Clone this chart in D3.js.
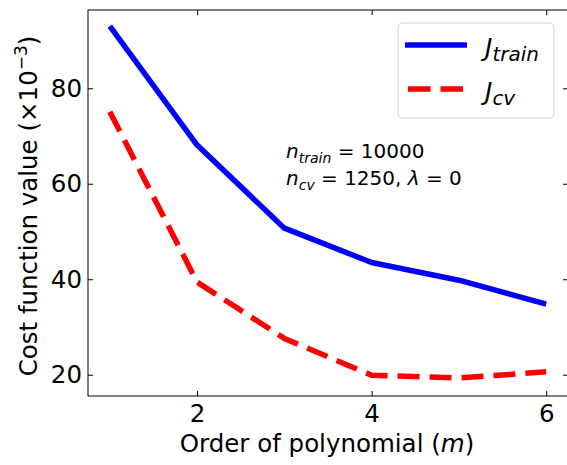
<!DOCTYPE html>
<html>
<head>
<meta charset="utf-8">
<script src="https://cdn.jsdelivr.net/npm/d3@7"></script>
<style>
  html, body { margin: 0; padding: 0; background: #fff; }
  svg { display: block; }
  text { font-family: "DejaVu Sans", sans-serif; fill: #000; }
</style>
</head>
<body>
<svg id="chart" width="567" height="465"></svg>
<script>
// ---- data ----
const orders = [1, 2, 3, 4, 5, 6];
const jTrain = [93.0, 68.1, 50.7, 43.5, 39.8, 34.8];
const jCv = [75.1, 39.4, 27.6, 19.9, 19.3, 20.6];
const xTicks = [2, 4, 6];
const yTicks = [20, 40, 60, 80];

(function () {
const svg = d3.select("#chart");
const pL = 88, pR = 568, pT = 10, pB = 396;

const x = d3.scaleLinear().domain([0.75, 6.25]).range([pL, pR]);
const y = d3.scaleLinear().domain([15.54, 96.4]).range([pB, pT]);

// frame
svg.append("rect").attr("x", pL).attr("y", pT)
  .attr("width", pR - pL).attr("height", pB - pT)
  .attr("fill", "none").attr("stroke", "#000").attr("stroke-width", 1);

// axes with inward ticks
const tickFont = "24.5px";
const gx = svg.append("g").attr("transform", `translate(0,${pB})`)
  .call(d3.axisBottom(x).tickValues(xTicks).tickFormat(d3.format("d")).tickSizeInner(-5).tickSizeOuter(0).tickPadding(9));
const gxt = svg.append("g").attr("transform", `translate(0,${pT})`)
  .call(d3.axisTop(x).tickValues(xTicks).tickFormat("").tickSizeInner(-5).tickSizeOuter(0));
const gy = svg.append("g").attr("transform", `translate(${pL},0)`)
  .call(d3.axisLeft(y).tickValues(yTicks).tickFormat(d3.format("d")).tickSizeInner(-5).tickSizeOuter(0).tickPadding(6));
const gyr = svg.append("g").attr("transform", `translate(${pR},0)`)
  .call(d3.axisRight(y).tickValues(yTicks).tickFormat("").tickSizeInner(-5).tickSizeOuter(0));
[gx, gxt, gy, gyr].forEach(g => {
  g.select(".domain").remove();
  g.selectAll("line").attr("stroke", "#000").attr("stroke-width", 1);
  g.selectAll("text").style("font-family", "DejaVu Sans").style("font-size", tickFont).attr("fill", "#000");
});

// lines
const line = d3.line().x((d, i) => x(orders[i])).y(d => y(d));
svg.append("path").datum(jTrain).attr("d", line)
  .attr("fill", "none").attr("stroke", "#0000ff").attr("stroke-width", 5.5)
  .attr("stroke-linejoin", "round");
svg.append("path").datum(jCv).attr("d", line)
  .attr("fill", "none").attr("stroke", "#ff0000").attr("stroke-width", 5.5)
  .attr("stroke-dasharray", "22,10").attr("stroke-linejoin", "round");

// axis labels
svg.append("text").attr("x", 327).attr("y", 452)
  .attr("text-anchor", "middle").style("font-size", "24.5px")
  .html('Order of polynomial (<tspan font-style="italic">m</tspan>)');
svg.append("text")
  .attr("transform", `translate(37,206) rotate(-90)`)
  .attr("text-anchor", "middle").style("font-size", "24.5px")
  .html('Cost function value (×10<tspan dy="-10" font-size="17px">−3</tspan><tspan dy="10">)</tspan>');

// legend
const lg = svg.append("g");
lg.append("rect").attr("x", 398).attr("y", 23).attr("width", 156).attr("height", 95)
  .attr("rx", 4).attr("fill", "#fff").attr("fill-opacity", 0.8)
  .attr("stroke", "#d5d5d5").attr("stroke-width", 1);
lg.append("line").attr("x1", 405).attr("x2", 467).attr("y1", 45).attr("y2", 45)
  .attr("stroke", "#0000ff").attr("stroke-width", 5.5);
lg.append("line").attr("x1", 408).attr("x2", 464).attr("y1", 89).attr("y2", 89)
  .attr("stroke", "#ff0000").attr("stroke-width", 5.5).attr("stroke-dasharray", "22.5,10");
lg.append("text").attr("x", 485).attr("y", 56).style("font-size", "25px").style("font-style", "italic")
  .html('J<tspan dy="5" font-size="20px">train</tspan>');
lg.append("text").attr("x", 485).attr("y", 100).style("font-size", "25px").style("font-style", "italic")
  .html('J<tspan dy="5" font-size="20px">cv</tspan>');

// annotation
const ann = svg.append("g").style("font-size", "20px");
ann.append("text").attr("x", 286).attr("y", 158)
  .html('<tspan font-style="italic">n</tspan><tspan dy="5" font-size="14px" font-style="italic">train</tspan><tspan dy="-5"> = 10000</tspan>');
ann.append("text").attr("x", 286).attr("y", 185)
  .html('<tspan font-style="italic">n</tspan><tspan dy="5" font-size="14px" font-style="italic">cv</tspan><tspan dy="-5"> = 1250, </tspan><tspan font-style="italic">λ</tspan><tspan> = 0</tspan>');
})();
</script>
</body>
</html>
